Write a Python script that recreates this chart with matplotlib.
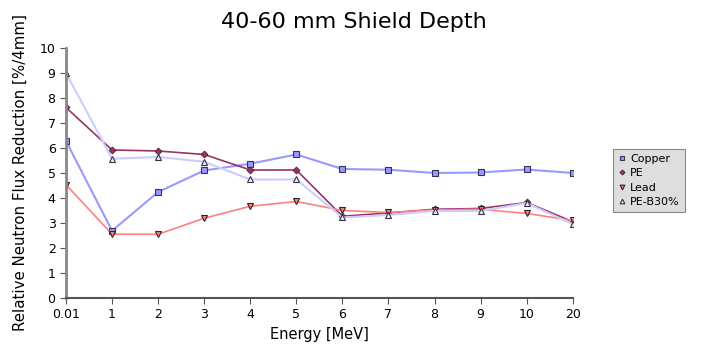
import matplotlib
matplotlib.use("Agg")
import matplotlib.pyplot as plt
import numpy as np

# data
energies = ["0.01", "1", "2", "3", "4", "5", "6", "7", "8", "9", "10", "20"]
copper = [6.28, 2.69, 4.24, 5.10, 5.37, 5.74, 5.16, 5.13, 5.00, 5.02, 5.14, 5.00]
pe = [7.62, 5.92, 5.88, 5.74, 5.12, 5.12, 3.27, 3.40, 3.55, 3.58, 3.82, 3.05]
lead = [4.53, 2.55, 2.55, 3.19, 3.67, 3.86, 3.50, 3.42, 3.52, 3.55, 3.38, 3.10]
pe_b30 = [9.00, 5.57, 5.64, 5.45, 4.74, 4.74, 3.22, 3.32, 3.48, 3.48, 3.80, 2.95]

x = np.arange(len(energies))

fig = plt.figure(figsize=(7.08, 3.58), dpi=100)
ax = fig.add_axes([0.0932, 0.1676, 0.7158, 0.6984])

ax.plot(x, copper, color="#9999ff", lw=1.5, marker="s", ms=4.5,
        mfc="#9999ff", mec="#333355", mew=0.8, label="Copper")
ax.plot(x, pe, color="#993366", lw=1.2, marker="D", ms=3.5,
        mfc="#993366", mec="#442233", mew=0.6, label="PE")
ax.plot(x, lead, color="#ff8080", lw=1.2, marker="v", ms=4.5,
        mfc="#ff8080", mec="#332222", mew=0.8, label="Lead")
ax.plot(x, pe_b30, color="#ccccff", lw=1.5, marker="^", ms=4.5,
        mfc="#eeeeff", mec="#333344", mew=0.8, label="PE-B30%")

ax.set_xlim(0, len(energies) - 1)
ax.set_ylim(0, 10)
ax.set_xticks(x)
ax.set_xticklabels(energies)
ax.set_yticks(range(0, 11))
ax.tick_params(labelsize=9, length=4, color="#555555")

for s in ["top", "right"]:
    ax.spines[s].set_visible(False)
ax.spines["left"].set_color("#888888")
ax.spines["left"].set_linewidth(2)
ax.spines["bottom"].set_color("#555555")
ax.spines["bottom"].set_linewidth(1.5)

ax.set_xlabel("Energy [MeV]", fontsize=10.5)
ax.set_ylabel("Relative Neutron Flux Reduction [%/4mm]", fontsize=10.8)
ax.yaxis.set_label_coords(-0.075, 0.50)
fig.text(0.5, 0.938, "40-60 mm Shield Depth", fontsize=16, ha="center", va="center")

leg = fig.legend(loc="upper left", bbox_to_anchor=(0.858, 0.60), fontsize=8,
                 frameon=True, fancybox=False, handlelength=0.7,
                 handletextpad=0.4, borderpad=0.45, labelspacing=0.4,
                 markerscale=0.75)
leg.get_frame().set_edgecolor("#888888")
leg.get_frame().set_facecolor("#dedede")
leg.get_frame().set_alpha(1)
leg.get_frame().set_linewidth(0.8)
for line in leg.get_lines():
    line.set_linestyle("none")

fig.savefig("out.png", dpi=100)
